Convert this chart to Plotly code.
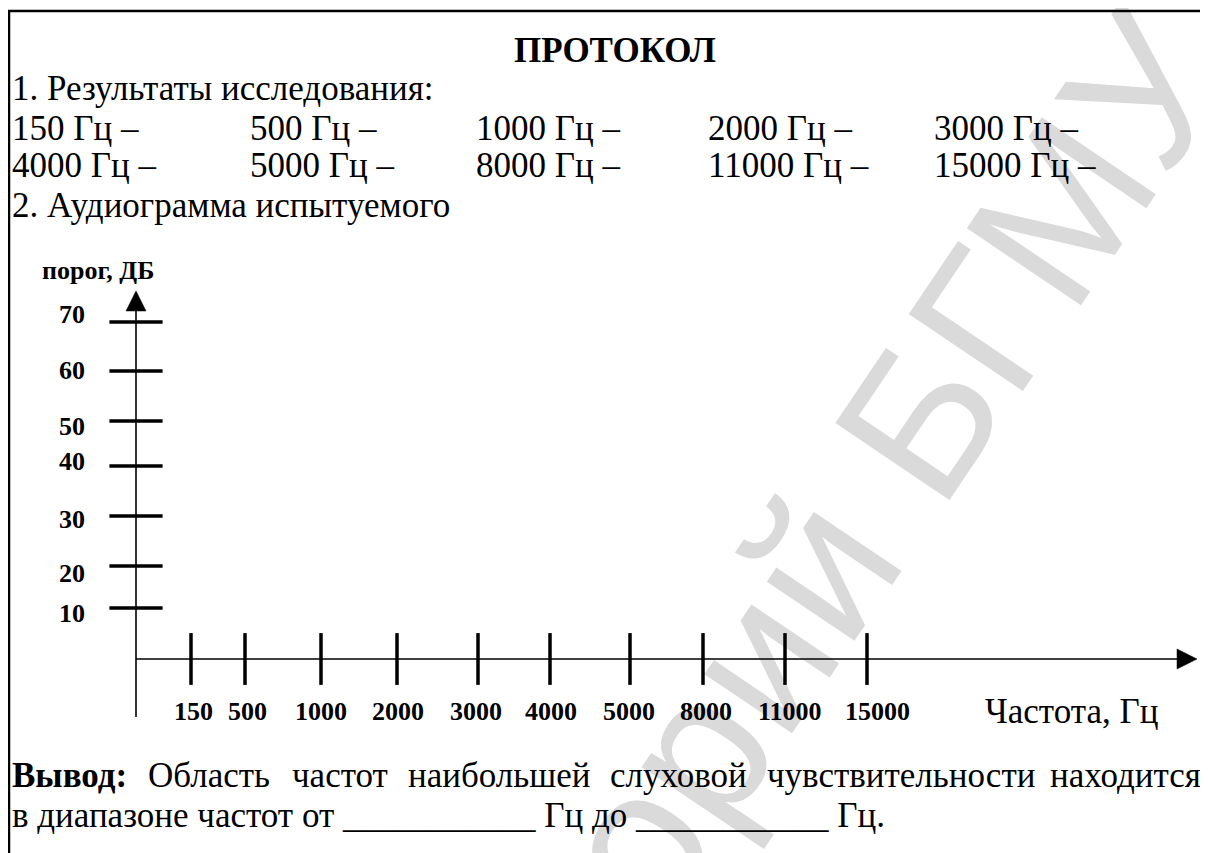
import math
import plotly.graph_objects as go

PAGE_W, PAGE_H = 1208, 853
OFF = 8  # default body margin of the html page
W, H = PAGE_W - OFF, PAGE_H - OFF

# ---------------- data / texts ----------------
title_text = "ПРОТОКОЛ"
section1 = "1. Результаты исследования:"
results_row1 = ["150 Гц –", "500 Гц –", "1000 Гц –", "2000 Гц –", "3000 Гц –"]
results_row2 = ["4000 Гц –", "5000 Гц –", "8000 Гц –", "11000 Гц –", "15000 Гц –"]
section2 = "2. Аудиограмма испытуемого"
y_axis_title = "порог, ДБ"
db_labels = ["70", "60", "50", "40", "30", "20", "10"]
freq_labels = ["150", "500", "1000", "2000", "3000", "4000", "5000", "8000", "11000", "15000"]
x_axis_title = "Частота, Гц"
conclusion_words = ["<b>Вывод:</b>", "Область", "частот", "наибольшей", "слуховой",
                    "чувствительности", "находится"]
conclusion_line2 = "в диапазоне частот от ___________ Гц до ___________ Гц."
watermark = "Репозиторий БГМУ"

# ---------------- layout positions (page pixels) ----------------
DB_TICK_Y = [322, 371, 421, 466, 516, 566, 608]
DB_LABEL_Y = [314, 370, 426, 461, 519, 573, 613]
FREQ_TICK_X = [191, 245, 321, 397, 478, 550, 630, 703, 785, 867]
FREQ_LABEL_X = [193, 247, 321, 398, 476, 551, 629, 706, 790, 877]
RESULT_COL_X = [10, 248, 474, 706, 932]
CONCL_WORD_X = [10, 146, 290, 406, 608, 765, 1203]

Y_AXIS_X = 136
X_AXIS_Y = 659

SERIF = "Liberation Serif, Times New Roman, serif"
BODY = 35
SMALL = 26

fig = go.Figure()

# tick marks drawn through the axes as line markers
fig.add_trace(go.Scatter(
    x=FREQ_TICK_X, y=[X_AXIS_Y] * len(FREQ_TICK_X), mode="markers",
    marker=dict(symbol="line-ns", size=37, line=dict(width=3.5, color="black")),
    hoverinfo="skip", showlegend=False))
fig.add_trace(go.Scatter(
    x=[Y_AXIS_X] * len(DB_TICK_Y), y=DB_TICK_Y, mode="markers",
    marker=dict(symbol="line-ew", size=38, line=dict(width=3.5, color="black")),
    hoverinfo="skip", showlegend=False))

shapes = []
# watermark (behind everything)
ang = math.radians(56)
ux, uy = math.cos(ang), -math.sin(ang)
cx, cy, half = 666, 762, 1200
shapes.append(dict(
    type="line", xref="x", yref="y", layer="below",
    x0=cx - half * ux, y0=cy - half * uy, x1=cx + half * ux, y1=cy + half * uy,
    line=dict(color="rgba(0,0,0,0)", width=1),
    label=dict(text=watermark, textposition="middle", yanchor="middle", padding=0,
               font=dict(family="Liberation Sans, Arial, sans-serif", size=200, color="#dadada"))))

# frame
shapes.append(dict(type="path", xref="x", yref="y", path=f"M 9,{PAGE_H} L 9,11 L {PAGE_W},11",
                   line=dict(color="black", width=2.5)))
# y axis + arrow
shapes.append(dict(type="line", xref="x", yref="y", x0=Y_AXIS_X, y0=717, x1=Y_AXIS_X, y1=305,
                   line=dict(color="black", width=1.6)))
shapes.append(dict(type="path", xref="x", yref="y",
                   path=f"M {Y_AXIS_X-10},311 L {Y_AXIS_X+10},311 L {Y_AXIS_X},291 Z",
                   fillcolor="black", line=dict(color="black", width=0.5)))
# x axis + arrow
shapes.append(dict(type="line", xref="x", yref="y", x0=Y_AXIS_X, y0=X_AXIS_Y, x1=1180, y1=X_AXIS_Y,
                   line=dict(color="black", width=1.6)))
shapes.append(dict(type="path", xref="x", yref="y",
                   path=f"M 1177,{X_AXIS_Y-10} L 1177,{X_AXIS_Y+10} L 1197,{X_AXIS_Y} Z",
                   fillcolor="black", line=dict(color="black", width=0.5)))

ann = []


def txt(x, y, s, size=BODY, anchor="left", bold=False):
    ann.append(dict(x=x, y=y, xref="x", yref="y", text=(f"<b>{s}</b>" if bold else s),
                    showarrow=False, xanchor=anchor, yanchor="middle",
                    font=dict(family=SERIF, size=size, color="black")))


txt(615, 50, title_text, anchor="center", bold=True)
txt(10, 88, section1)
for x, s in zip(RESULT_COL_X, results_row1):
    txt(x, 128, s)
for x, s in zip(RESULT_COL_X, results_row2):
    txt(x, 165, s)
txt(10, 205, section2)

txt(40, 270, y_axis_title, size=SMALL, bold=True)
for y, s in zip(DB_LABEL_Y, db_labels):
    txt(87, y, s, size=SMALL, anchor="right", bold=True)
for x, s in zip(FREQ_LABEL_X, freq_labels):
    txt(x, 711, s, size=SMALL, anchor="center", bold=True)
txt(1160, 711, x_axis_title, anchor="right")

for i, (x, s) in enumerate(zip(CONCL_WORD_X, conclusion_words)):
    txt(x, 775, s, anchor=("right" if i == len(conclusion_words) - 1 else "left"))
txt(10, 815, conclusion_line2)

fig.update_layout(
    width=W, height=H, margin=dict(l=0, r=0, t=0, b=0),
    paper_bgcolor="white", plot_bgcolor="white",
    xaxis=dict(range=[OFF, PAGE_W], visible=False, fixedrange=True),
    yaxis=dict(range=[PAGE_H, OFF], visible=False, fixedrange=True),
    shapes=shapes, annotations=ann, showlegend=False,
)
fig.write_html("out.html")
